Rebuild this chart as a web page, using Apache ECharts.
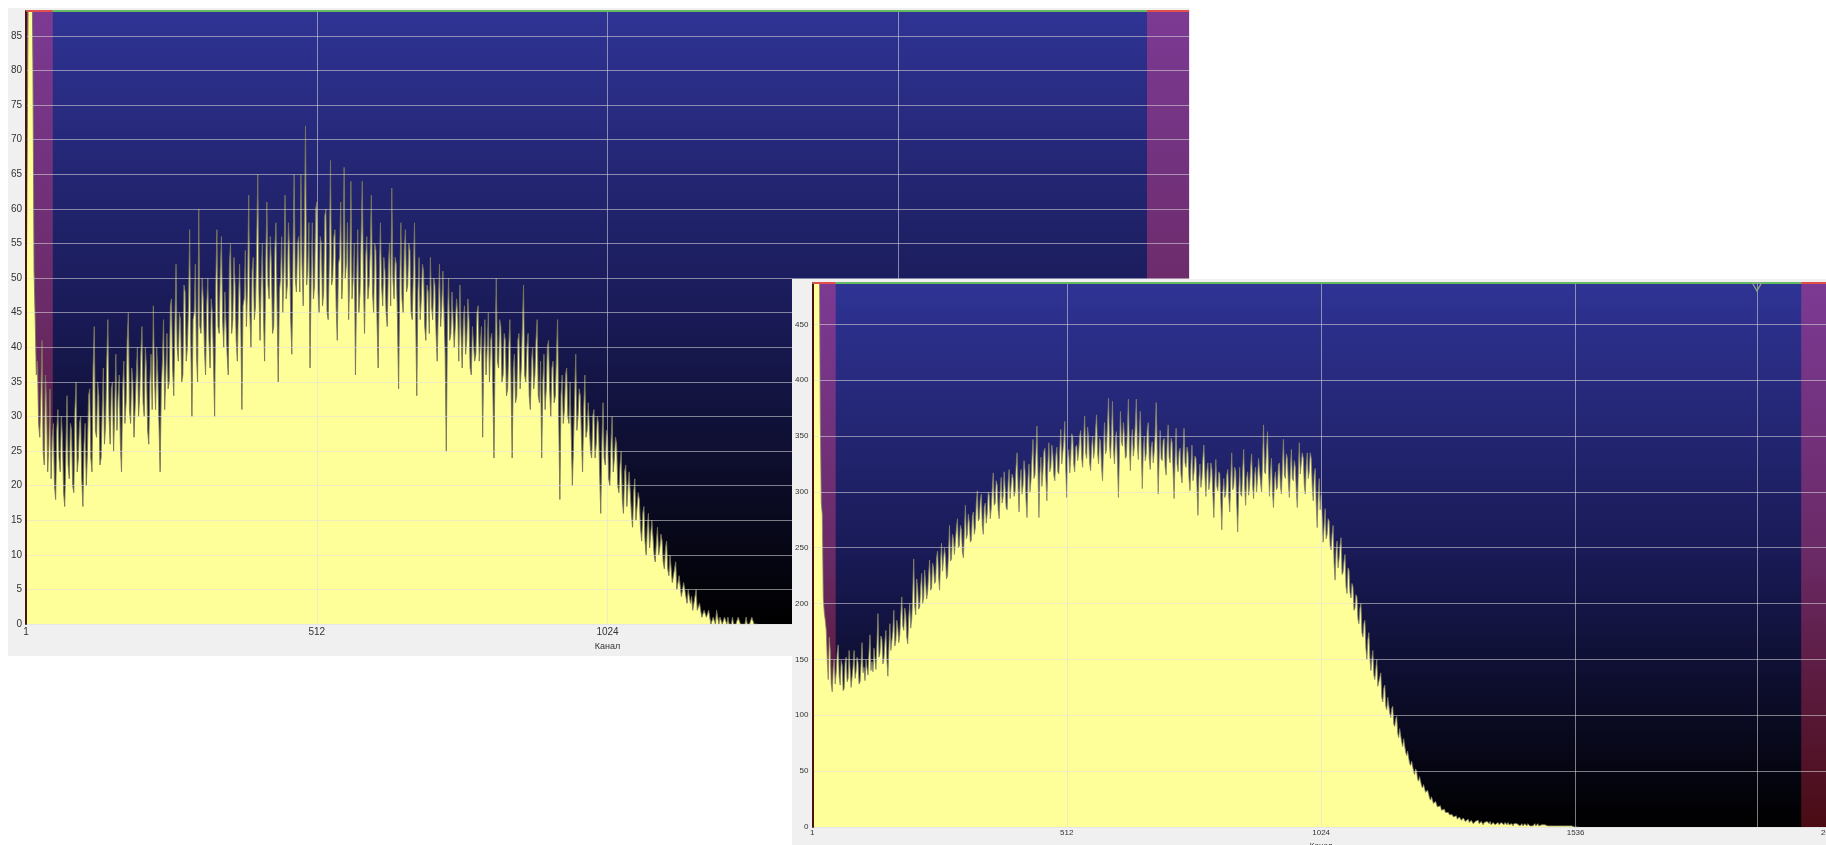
<!DOCTYPE html>
<html>
<head>
<meta charset="utf-8">
<script src="https://cdn.jsdelivr.net/npm/echarts@6/dist/echarts.min.js"></script>
<style>
  html, body { margin: 0; padding: 0; background: #ffffff; width: 1826px; height: 845px; overflow: hidden; }
  .panel { position: absolute; background: #f0f0f0; overflow: hidden; }
  #spectrumA { left: 8px; top: 8px; width: 1182px; height: 648px; }
  #spectrumB { left: 792px; top: 279px; width: 1060px; height: 590px; }
</style>
</head>
<body>
<div id="spectrumA" class="panel"></div>
<div id="spectrumB" class="panel"></div>
<script>
// Spectrum A: counts stored every STEP_A channels, starting at channel 0
const STEP_A = 2;
const countsA = [
  43, 43, 96, 100, 100, 98, 81, 51, 44, 36, 38, 29, 27, 33, 41, 25, 23, 36, 32, 22,
  26, 34, 21, 27, 29, 20, 18, 28, 31, 24, 22, 30, 27, 19, 17, 25, 33, 23, 21, 29,
  28, 20, 19, 31, 35, 22, 24, 29, 30, 21, 17, 26, 29, 20, 25, 33, 34, 24, 22, 37,
  43, 28, 27, 35, 33, 23, 24, 31, 37, 26, 29, 38, 44, 30, 26, 34, 35, 25, 31, 39,
  28, 33, 36, 26, 22, 34, 38, 29, 32, 41, 45, 31, 29, 37, 35, 27, 27, 36, 40, 30,
  33, 39, 43, 32, 30, 40, 37, 28, 26, 35, 39, 31, 46, 36, 31, 40, 36, 29, 22, 34,
  38, 44, 31, 36, 42, 34, 35, 46, 47, 37, 33, 43, 52, 40, 38, 45, 44, 35, 36, 49,
  48, 38, 40, 46, 57, 41, 30, 44, 45, 52, 39, 35, 60, 43, 42, 50, 47, 40, 36, 46,
  50, 41, 37, 47, 45, 38, 30, 49, 57, 43, 42, 51, 56, 44, 40, 48, 48, 39, 36, 52,
  55, 42, 44, 53, 49, 41, 38, 47, 52, 44, 31, 46, 47, 54, 43, 49, 62, 45, 40, 51,
  53, 44, 46, 55, 65, 48, 41, 50, 55, 45, 38, 52, 61, 49, 47, 56, 52, 42, 43, 54,
  58, 46, 35, 48, 50, 56, 45, 51, 62, 47, 49, 58, 54, 44, 39, 53, 65, 50, 48, 55,
  56, 48, 65, 52, 46, 57, 72, 49, 51, 58, 37, 50, 58, 47, 49, 60, 61, 48, 45, 56,
  55, 46, 48, 59, 60, 45, 44, 53, 67, 49, 50, 56, 57, 46, 41, 52, 53, 61, 47, 51,
  66, 50, 52, 58, 44, 51, 64, 47, 50, 55, 36, 49, 57, 45, 48, 56, 64, 50, 42, 53,
  56, 47, 49, 54, 62, 48, 45, 55, 54, 44, 37, 50, 58, 49, 46, 53, 51, 45, 43, 52,
  55, 46, 63, 50, 47, 53, 52, 44, 34, 49, 58, 47, 45, 54, 57, 48, 49, 55, 54, 45,
  44, 51, 58, 45, 33, 48, 53, 44, 47, 52, 51, 43, 41, 49, 48, 42, 53, 46, 44, 50,
  49, 42, 38, 46, 52, 43, 46, 51, 45, 39, 25, 44, 50, 41, 42, 48, 48, 40, 40, 47,
  45, 38, 49, 42, 37, 44, 46, 39, 41, 47, 44, 37, 36, 43, 43, 38, 39, 45, 46, 38,
  38, 43, 27, 39, 44, 36, 40, 45, 35, 41, 42, 34, 24, 40, 50, 38, 37, 44, 43, 35,
  36, 42, 41, 33, 34, 40, 44, 35, 24, 37, 39, 32, 33, 41, 42, 34, 37, 43, 49, 36,
  35, 40, 42, 33, 31, 38, 40, 34, 36, 41, 44, 33, 32, 38, 24, 35, 39, 31, 34, 40,
  41, 34, 30, 37, 38, 32, 33, 39, 44, 30, 18, 33, 36, 29, 31, 36, 37, 30, 29, 35,
  35, 20, 26, 33, 39, 28, 30, 34, 33, 27, 22, 31, 36, 27, 28, 32, 32, 25, 24, 30,
  31, 24, 26, 30, 29, 22, 16, 26, 32, 24, 23, 28, 27, 21, 20, 26, 30, 22, 24, 27,
  26, 20, 19, 23, 25, 18, 16, 22, 23, 17, 20, 22, 22, 16, 14, 19, 21, 15, 17, 19,
  18, 14, 12, 16, 17, 12, 10, 14, 16, 11, 13, 15, 15, 10, 9, 12, 14, 10, 11, 13,
  12, 9, 8, 11, 12, 8, 7, 10, 10, 6, 6, 8, 9, 5, 5, 7, 7, 4, 4, 6,
  6, 4, 3, 5, 5, 3, 4, 2, 3, 4, 5, 2, 2, 3, 3, 1, 1, 2, 2, 1,
  1, 2, 2, 0, 0, 1, 1, 0, 2, 1, 0, 1, 1, 0, 0, 1, 1, 0, 1, 0,
  0, 0, 1, 0, 0, 0, 0, 1, 1, 0, 0, 0, 0, 0, 1, 0, 0, 0, 0, 1, 1, 0, 0, 0, 0
];

// Spectrum B: counts stored every STEP_B channels, starting at channel 0
const STEP_B = 2;
const countsB = [
  520, 560, 600, 620, 640, 600, 560, 520, 365, 290, 280, 205, 192, 185, 176, 150, 132, 170, 158, 128,
  121, 142, 150, 128, 138, 155, 163, 135, 127, 149, 145, 122, 124, 147, 152, 130, 133, 158, 141, 125,
  126, 144, 158, 133, 139, 152, 147, 128, 130, 146, 165, 138, 143, 131, 150, 142, 136, 155, 172, 140,
  148, 139, 160, 150, 141, 163, 191, 152, 155, 171, 168, 146, 150, 165, 176, 150, 135, 160, 182, 158,
  158, 175, 194, 162, 167, 185, 178, 165, 172, 190, 206, 180, 176, 196, 190, 170, 164, 188, 200, 178,
  186, 208, 240, 198, 190, 222, 214, 195, 197, 215, 227, 200, 205, 230, 219, 204, 210, 226, 239, 212,
  214, 236, 232, 218, 220, 241, 247, 224, 212, 238, 254, 229, 230, 250, 241, 222, 225, 244, 270, 238,
  240, 262, 258, 244, 245, 268, 276, 250, 252, 270, 266, 246, 241, 265, 288, 258, 262, 280, 272, 255,
  257, 278, 282, 262, 268, 290, 301, 274, 276, 292, 298, 270, 262, 286, 290, 272, 281, 300, 297, 276,
  285, 302, 317, 288, 290, 310, 306, 284, 276, 300, 313, 290, 296, 318, 303, 286, 284, 308, 320, 294,
  295, 316, 312, 296, 300, 322, 335, 304, 282, 310, 320, 298, 306, 328, 318, 293, 277, 312, 325, 300,
  310, 330, 347, 312, 315, 334, 359, 320, 277, 316, 331, 305, 318, 336, 339, 312, 292, 325, 344, 318,
  322, 342, 333, 315, 310, 332, 340, 318, 316, 338, 356, 325, 326, 345, 363, 320, 295, 330, 338, 317,
  330, 352, 349, 325, 318, 340, 342, 328, 335, 350, 355, 330, 322, 346, 368, 335, 330, 358, 348, 326,
  319, 340, 350, 330, 337, 356, 369, 335, 325, 348, 345, 322, 310, 340, 362, 334, 338, 360, 384, 342,
  330, 352, 381, 338, 325, 348, 354, 326, 295, 335, 372, 345, 341, 362, 350, 330, 332, 355, 383, 340,
  319, 345, 356, 332, 340, 360, 383, 342, 329, 352, 372, 336, 303, 338, 350, 328, 334, 355, 362, 330,
  320, 340, 345, 326, 336, 352, 380, 338, 298, 332, 355, 330, 328, 346, 348, 322, 315, 342, 360, 331,
  326, 348, 344, 318, 294, 330, 357, 325, 318, 336, 339, 315, 308, 334, 357, 326, 322, 340, 335, 312,
  301, 325, 342, 310, 317, 332, 330, 305, 279, 312, 325, 304, 312, 330, 342, 315, 296, 318, 326, 302,
  309, 326, 320, 298, 277, 308, 329, 305, 301, 318, 316, 292, 266, 300, 312, 295, 298, 315, 320, 296,
  282, 310, 335, 302, 305, 322, 318, 290, 264, 300, 322, 298, 296, 318, 338, 305, 288, 312, 318, 297,
  305, 322, 334, 306, 294, 315, 322, 300, 312, 330, 329, 308, 300, 326, 360, 318, 316, 338, 354, 320,
  296, 318, 330, 300, 286, 310, 318, 302, 304, 324, 326, 305, 298, 322, 347, 315, 312, 334, 330, 308,
  295, 320, 338, 312, 310, 328, 322, 300, 286, 318, 344, 316, 316, 335, 330, 306, 298, 324, 335, 312,
  318, 335, 330, 305, 292, 315, 321, 290, 268, 298, 312, 284, 297, 278, 255, 270, 285, 258, 262, 276,
  274, 252, 248, 262, 270, 236, 221, 248, 256, 232, 240, 252, 259, 226, 228, 238, 244, 215, 209, 232,
  230, 210, 205, 218, 215, 194, 196, 208, 206, 186, 182, 196, 200, 174, 170, 182, 185, 160, 150, 168,
  174, 152, 140, 150, 158, 136, 132, 142, 150, 126, 125, 134, 138, 116, 112, 124, 127, 108, 105, 116,
  115, 102, 98, 106, 108, 92, 90, 97, 99, 84, 80, 88, 88, 76, 72, 79, 78, 67, 64, 68,
  62, 57, 55, 59, 58, 50, 47, 52, 50, 43, 41, 45, 44, 37, 35, 38, 37, 31, 30, 33,
  30, 26, 24, 27, 26, 21, 20, 23, 22, 18, 17, 19, 19, 15, 14, 16, 16, 13, 12, 14,
  13, 11, 10, 12, 11, 9, 8, 10, 10, 7, 7, 9, 8, 6, 6, 8, 7, 5, 5, 6,
  7, 4, 5, 6, 6, 3, 4, 5, 5, 4, 6, 3, 3, 5, 5, 2, 4, 4, 3, 5,
  4, 3, 5, 2, 3, 4, 4, 2, 2, 3, 4, 2, 3, 4, 5, 3, 2, 4, 3, 2,
  4, 2, 2, 3, 3, 1, 3, 2, 2, 3, 4, 2, 1, 2, 3, 1, 2, 3, 2, 1,
  3, 2, 1, 2, 2, 1, 2, 3, 1, 2, 3, 1, 1, 2, 2, 1, 1, 2, 2, 1,
  1, 2, 2, 1, 1, 0, 1, 2, 2, 1, 0, 1, 1, 0, 1, 1, 0, 1, 1, 0,
  0, 1, 0, 0, 1, 0, 0, 0, 0, 0, 0, 0
];

// Channel axis ticks and their printed labels
const channelTicks = [0, 512, 1024, 1536, 2048];
const channelTickLabels = ['1', '512', '1024', '1536', '2048'];

// Region-of-interest bands [from, to] in channels
const roiBandsA = [[1, 47], [1974, 2048]];
const roiBandsB = [[1, 47], [1990, 2048]];

// Cursor marker channel on spectrum B
const cursorB = 1901;

const FONT = '"Liberation Sans", Arial, sans-serif';
const GRID_LINE = 'rgba(222,222,222,0.55)';

function vGrad(stops) {
  return {
    type: 'linear', x: 0, y: 0, x2: 0, y2: 1,
    colorStops: stops.map(([offset, color]) => ({ offset, color }))
  };
}

const plotBackground = vGrad([[0, '#2f3394'], [0.5, '#191a56'], [1, '#000000']]);
const bandFill = vGrad([[0, '#7c3a94'], [0.5, '#6a2a66'], [1, '#4a0b14']]);

function spectrumOption(cfg) {
  const points = cfg.counts.map((v, i) => [i * cfg.step, v]);
  const top = cfg.yMax;

  // Frame line along the top: red over the ROI bands, green elsewhere
  const edges = [0, 2048];
  cfg.bands.forEach(([a, b]) => { edges.push(a, b); });
  const uniq = Array.from(new Set(edges)).sort((a, b) => a - b);
  const markerLines = [];
  for (let k = 0; k < uniq.length - 1; k++) {
    const a = uniq[k], b = uniq[k + 1];
    const inBand = cfg.bands.some(([s, e]) => a >= s && b <= e);
    markerLines.push([
      { coord: [a, top], lineStyle: { color: inBand ? '#e0504a' : '#62bb62' } },
      { coord: [b, top] }
    ]);
  }

  const markerPoints = [];
  if (cfg.cursor != null) {
    markerLines.push([
      { coord: [cfg.cursor, 0], lineStyle: { color: 'rgba(205,205,205,0.6)', width: 1 } },
      { coord: [cfg.cursor, top] }
    ]);
    markerPoints.push({ coord: [cfg.cursor, top] });
  }

  return {
    animation: false,
    grid: { left: cfg.left, top: cfg.top, width: cfg.width, height: cfg.height },
    xAxis: {
      type: 'value', min: 0, max: 2048, interval: 512, z: 3,
      name: 'Канал', nameLocation: 'middle', nameGap: cfg.nameGap,
      nameTextStyle: { color: '#333', fontSize: cfg.nameSize, fontFamily: FONT },
      axisLine: { show: false }, axisTick: { show: false },
      axisLabel: {
        color: '#333', fontSize: cfg.fontSize, fontFamily: FONT, margin: cfg.xMargin,
        showMaxLabel: cfg.showLastLabel,
        formatter: (v) => {
          const idx = channelTicks.indexOf(v);
          return idx >= 0 ? channelTickLabels[idx] : '';
        }
      },
      splitLine: { show: true, lineStyle: { color: GRID_LINE, width: 1 } }
    },
    yAxis: {
      type: 'value', min: 0, max: cfg.yMax, interval: cfg.yStep, z: 3,
      axisLine: { show: true, lineStyle: { color: '#4a140c', width: 2 } },
      axisTick: { show: false },
      axisLabel: { color: '#333', fontSize: cfg.fontSize, fontFamily: FONT, margin: 4, showMaxLabel: false },
      splitLine: { show: true, lineStyle: { color: GRID_LINE, width: 1 } }
    },
    series: [
      {
        name: 'plot-background', type: 'line', data: [], z: 0, silent: true,
        markArea: {
          silent: true,
          data: [[{ xAxis: 0, itemStyle: { color: plotBackground } }, { xAxis: 2048 }]]
        }
      },
      {
        name: 'roi', type: 'line', data: [], z: 1, silent: true,
        markArea: {
          silent: true,
          data: cfg.bands.map(([a, b]) => [{ xAxis: a, itemStyle: { color: bandFill } }, { xAxis: b }])
        }
      },
      {
        name: 'counts', type: 'line', data: points, z: 2, clip: true,
        showSymbol: false, symbol: 'none', silent: true,
        lineStyle: { color: cfg.lineColor, width: cfg.lineWidth },
        areaStyle: { color: '#ffff99', opacity: 1 }
      },
      {
        name: 'frame', type: 'line', data: [], z: 5, silent: true, clip: false,
        markLine: {
          silent: true, symbol: ['none', 'none'], animation: false,
          label: { show: false },
          lineStyle: { width: 2, type: 'solid' },
          data: markerLines
        },
        markPoint: {
          silent: true, animation: false,
          symbol: 'triangle', symbolRotate: 180, symbolSize: [9, 8], symbolOffset: [0, 4],
          itemStyle: { color: 'rgba(0,0,0,0)', borderColor: '#8da784', borderWidth: 1.2 },
          label: { show: false },
          data: markerPoints
        }
      }
    ]
  };
}

const chartA = echarts.init(document.getElementById('spectrumA'), null, { renderer: 'canvas' });
chartA.setOption(spectrumOption({
  counts: countsA, step: STEP_A, bands: roiBandsA, cursor: null,
  left: 16, top: 3, width: 1165, height: 620,
  yMax: 88.6, yStep: 5, fontSize: 10, nameSize: 9, nameGap: 14, xMargin: 3,
  showLastLabel: false, lineColor: '#77755c', lineWidth: 0.9
}));

const chartB = echarts.init(document.getElementById('spectrumB'), null, { renderer: 'canvas' });
chartB.setOption(spectrumOption({
  counts: countsB, step: STEP_B, bands: roiBandsB, cursor: cursorB,
  left: 19, top: 4, width: 1019, height: 544,
  yMax: 487, yStep: 50, fontSize: 8, nameSize: 8, nameGap: 12, xMargin: 2,
  showLastLabel: true, lineColor: '#858368', lineWidth: 0.8
}));
</script>
</body>
</html>
